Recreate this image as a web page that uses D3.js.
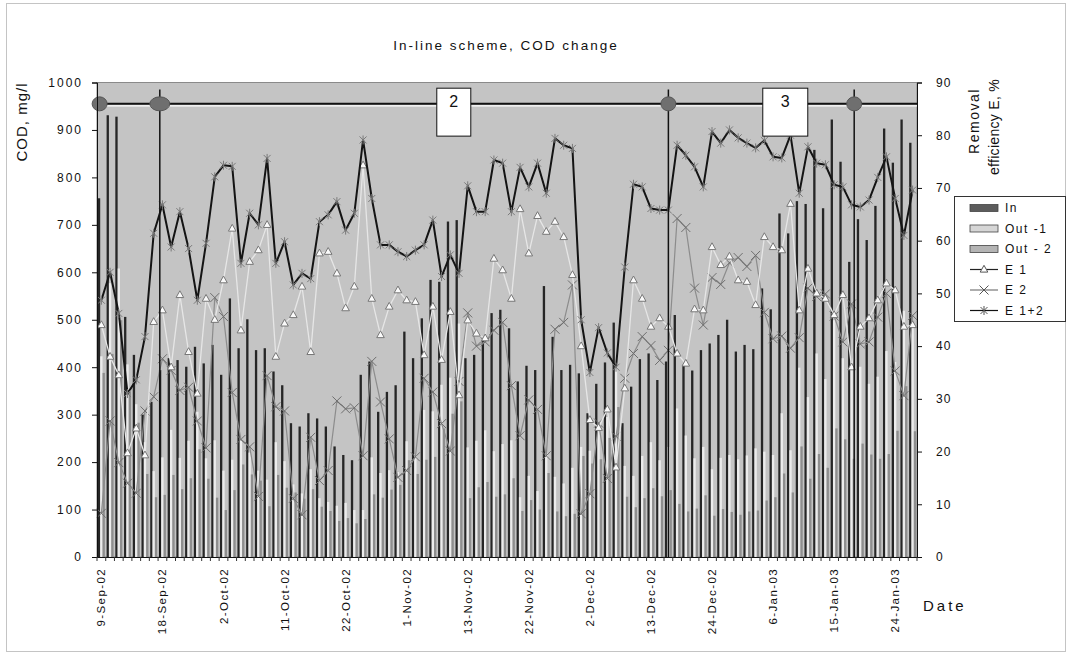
<!DOCTYPE html>
<html>
<head>
<meta charset="utf-8">
<script src="https://cdn.jsdelivr.net/npm/d3@7"></script>
<style>
body { margin: 0; background: #fff; }
text { font-family: "Liberation Sans", Arial, sans-serif; fill: #111; }
</style>
</head>
<body>
<script>
(function(){

//sampling dates (categories)
var dates = [
  "9-Sep-02","10-Sep-02","11-Sep-02","12-Sep-02","13-Sep-02","16-Sep-02","17-Sep-02",
  "18-Sep-02","20-Sep-02","23-Sep-02","24-Sep-02","26-Sep-02","27-Sep-02","30-Sep-02",
  "2-Oct-02","3-Oct-02","4-Oct-02","7-Oct-02","8-Oct-02","9-Oct-02","10-Oct-02",
  "11-Oct-02","14-Oct-02","15-Oct-02","16-Oct-02","17-Oct-02","18-Oct-02","21-Oct-02",
  "22-Oct-02","23-Oct-02","24-Oct-02","25-Oct-02","28-Oct-02","29-Oct-02","31-Oct-02",
  "1-Nov-02","4-Nov-02","5-Nov-02","6-Nov-02","8-Nov-02","11-Nov-02","12-Nov-02",
  "13-Nov-02","14-Nov-02","15-Nov-02","18-Nov-02","19-Nov-02","20-Nov-02","21-Nov-02",
  "22-Nov-02","25-Nov-02","26-Nov-02","27-Nov-02","28-Nov-02","29-Nov-02","30-Nov-02",
  "2-Dec-02","3-Dec-02","4-Dec-02","5-Dec-02","9-Dec-02","10-Dec-02","11-Dec-02",
  "13-Dec-02","16-Dec-02","17-Dec-02","18-Dec-02","19-Dec-02","20-Dec-02","23-Dec-02",
  "24-Dec-02","26-Dec-02","27-Dec-02","30-Dec-02","31-Dec-02","2-Jan-03","3-Jan-03",
  "6-Jan-03","7-Jan-03","8-Jan-03","9-Jan-03","10-Jan-03","13-Jan-03","14-Jan-03",
  "15-Jan-03","16-Jan-03","17-Jan-03","20-Jan-03","21-Jan-03","22-Jan-03","23-Jan-03",
  "24-Jan-03","27-Jan-03","28-Jan-03"
];

//COD, mg/l
var codIn = [756,931,928,506,426,300,327,394,419,415,
  401,443,408,447,384,545,440,501,436,440,
  391,362,282,275,303,292,275,233,215,204,
  384,412,306,348,362,475,419,503,584,580,
  707,710,419,426,457,514,521,482,370,403,
  394,571,464,394,405,387,303,365,410,494,
  282,359,417,429,373,412,510,405,393,436,
  450,468,500,433,447,438,566,522,724,682,
  750,744,858,735,922,833,622,712,668,740,
  903,831,922,873];
var codOut1 = [423,577,608,406,322,242,181,210,268,209,
  245,306,208,246,182,205,251,220,182,163,
  242,202,153,134,185,124,116,108,114,99,
  99,210,177,183,179,244,216,310,307,363,
  378,492,231,245,267,223,238,246,126,171,
  139,219,169,155,188,232,224,276,295,410,
  192,171,213,242,204,232,313,256,208,232,
  185,209,215,206,214,229,222,215,303,225,
  399,337,429,375,499,419,398,401,365,380,
  434,411,519,489];
var codOut2 = [388,428,499,349,283,175,126,131,173,143,
  166,227,165,125,99,141,195,174,161,107,
  173,146,136,123,143,106,97,76,82,71,
  80,132,125,142,152,204,175,205,211,271,
  302,328,124,147,158,127,132,166,97,120,
  100,177,96,86,91,213,197,206,251,316,
  127,105,124,145,128,141,112,96,102,130,
  87,101,95,89,96,98,119,126,176,136,
  233,165,217,188,271,248,207,239,216,207,
  217,266,360,265];

//removal efficiency, %
var effE1 = [44,38,34.5,19.7,24.4,19.3,44.6,46.8,36,49.7,
  38.9,31,49,45,52.5,62.3,43,56,58.2,63,
  38,44.3,45.9,51.3,38.9,57.6,57.9,53.8,47.2,51.3,
  74.3,49,42.1,47.5,50.6,48.7,48.4,38.3,47.5,37.4,
  46.5,30.7,44.9,42.4,41.5,56.6,54.4,49,66,57.6,
  64.7,61.7,63.6,60.7,53.5,40,26,24.5,28,17,
  32,52.5,49,43.7,45.3,43.7,38.6,36.7,47,46.8,
  58.8,55.4,57,52.5,52.2,47.8,60.7,58.8,58.2,67,
  46.8,54.7,50,49,45.9,49.7,36,43.7,45.3,48.7,
  51.9,50.6,43.7,44];
var effE2 = [8.3,25.8,17.9,14,12.1,27.7,30.4,37.6,35.4,31.6,
  32.2,25.8,20.7,49.2,45.6,31.2,22.3,20.9,11.5,34.4,
  28.5,27.7,11.1,8,22.7,14.5,16.4,29.6,28.1,28.3,
  19.2,37.1,29.4,22.4,15.1,16.4,19,33.9,31.3,25.3,
  20.1,33.3,46.3,40,40.8,43,44.5,32.5,23,29.8,
  28,19.2,43.2,44.5,51.6,8.2,12,25.4,14.9,22.9,
  33.9,38.6,41.8,40.1,37.3,39.2,64.2,62.5,51,44,
  53,51.7,55.8,56.8,55.1,57.2,46.4,41.4,41.9,39.6,
  41.6,51,49.4,49.9,45.7,40.8,48,40.4,40.8,45.5,
  50,35.3,30.6,45.8];
var effE12 = [48.7,54,46.2,31,33.6,41.8,61.4,66.8,58.8,65.5,
  58.5,48.7,59.5,72.1,74.3,74.1,55.7,65.2,63,75.6,
  55.7,59.8,51.6,53.8,52.8,63.6,64.9,67.4,62,65.2,
  79.1,68,59.2,59.2,57.9,57,58.2,59.2,63.9,53.2,
  57.3,53.8,70.4,65.5,65.5,75.3,74.7,65.5,73.9,70.2,
  74.7,69,79.4,78.1,77.5,45,35,43.5,38.7,36,
  55,70.7,70.2,66.1,65.8,65.8,78.1,76.2,74,70.2,
  80.7,78.5,81,79.5,78.5,77.6,79,75.9,75.7,80,
  69,77.8,74.7,74.4,70.6,70.2,66.8,66.4,67.7,72,
  75.9,68,61,69.6];

var codTicks = [0,100,200,300,400,500,600,700,800,900,1000];
var effTicks = [0,10,20,30,40,50,60,70,80,90];

//treatment phases (position in category units) and phase labels
var phaseLevel = 955;
var phaseMarks = [0.3, 7.2, 65.5, 86.8];
var phaseLabels = ["2", "3"];
var phaseLabelAt = [40.9, 78.9];

//frame
var width = 1071, height = 665;
var plot = {left: 97, right: 917, top: 82.5, bottom: 557};

var svg = d3.select("body").append("svg")
  .attr("width", width)
  .attr("height", height);

//outer dotted border
svg.append("rect")
  .attr("x", 6.5).attr("y", 3.5)
  .attr("width", 1059).attr("height", 648)
  .attr("fill", "none")
  .attr("stroke", "#888")
  .attr("stroke-dasharray", "1,1");

//scales
var x = d3.scaleBand().domain(dates).range([plot.left, plot.right]);
var bw = x.bandwidth();
var xSub = d3.scaleBand().domain(["In", "Out1", "Out2"]).range([bw * 0.1, bw * 0.9]);
var xIdx = d3.scaleLinear().domain([0, dates.length]).range([plot.left, plot.right]);
var yL = d3.scaleLinear().domain([0, 1000]).range([plot.bottom, plot.top]);
var yR = d3.scaleLinear().domain([0, 90]).range([plot.bottom, plot.top]);

//plot background
svg.append("rect")
  .attr("x", plot.left).attr("y", plot.top)
  .attr("width", plot.right - plot.left)
  .attr("height", plot.bottom - plot.top)
  .attr("fill", "#c4c4c4")
  .attr("stroke", "#8a8a8a");

//bars
var barSeries = [
  {key: "In", values: codIn, fill: "#262626"},
  {key: "Out1", values: codOut1, fill: "#ececec"},
  {key: "Out2", values: codOut2, fill: "#8e8e8e"}
];
barSeries.forEach(function(s){
  svg.append("g").selectAll("rect")
    .data(s.values)
    .enter()
    .append("rect")
    .attr("x", function(d, i){ return x(dates[i]) + xSub(s.key); })
    .attr("y", function(d){ return yL(d); })
    .attr("width", xSub.bandwidth())
    .attr("height", function(d){ return yL(0) - yL(d); })
    .attr("fill", s.fill);
});

//efficiency lines
var cx = function(i){ return x(dates[i]) + bw / 2; };
var line = d3.line()
  .x(function(d, i){ return cx(i); })
  .y(function(d){ return yR(d); });

var triPath = "M0,-4.2L3.8,2.6L-3.8,2.6Z";
var crossPath = "M-4.5,-4.5L4.5,4.5M-4.5,4.5L4.5,-4.5";
var starPath = "M-3.5,-3.5L3.5,3.5M-3.5,3.5L3.5,-3.5M0,-4.5L0,4.5";

var lineSeries = [
  {values: effE2, stroke: "#8c8c8c", sw: 1.2, marker: crossPath, mFill: "none", mStroke: "#6e6e6e"},
  {values: effE1, stroke: "#e6e6e6", sw: 1.3, marker: triPath, mFill: "#fafafa", mStroke: "#777"},
  {values: effE12, stroke: "#141414", sw: 2, marker: starPath, mFill: "none", mStroke: "#7a7a7a"}
];
lineSeries.forEach(function(s){
  svg.append("path")
    .datum(s.values)
    .attr("d", line)
    .attr("fill", "none")
    .attr("stroke", s.stroke)
    .attr("stroke-width", s.sw)
    .attr("stroke-linejoin", "round");
  svg.append("g").selectAll("path")
    .data(s.values)
    .enter()
    .append("path")
    .attr("transform", function(d, i){ return "translate(" + cx(i) + "," + yR(d) + ")"; })
    .attr("d", s.marker)
    .attr("fill", s.mFill)
    .attr("stroke", s.mStroke)
    .attr("stroke-width", 1);
});

//phase annotation
var ann = svg.append("g");
ann.append("line")
  .attr("x1", plot.left).attr("x2", plot.right)
  .attr("y1", yL(phaseLevel) + 2).attr("y2", yL(phaseLevel) + 2)
  .attr("stroke", "#fff").attr("stroke-width", 1.2);
ann.append("line")
  .attr("x1", plot.left).attr("x2", plot.right)
  .attr("y1", yL(phaseLevel)).attr("y2", yL(phaseLevel))
  .attr("stroke", "#111").attr("stroke-width", 2);
ann.selectAll(".vmark")
  .data(phaseMarks.slice(1))
  .enter()
  .append("line")
  .attr("class", "vmark")
  .attr("x1", function(d){ return xIdx(d); })
  .attr("x2", function(d){ return xIdx(d); })
  .attr("y1", yL(985)).attr("y2", yL(0))
  .attr("stroke", "#111").attr("stroke-width", 1.5);
ann.selectAll(".dot")
  .data(phaseMarks)
  .enter()
  .append("ellipse")
  .attr("class", "dot")
  .attr("cx", function(d){ return xIdx(d); })
  .attr("cy", yL(phaseLevel))
  .attr("rx", function(d, i){ return i === 1 ? 10 : 7.5; })
  .attr("ry", 7)
  .attr("fill", "#6f6f6f")
  .attr("stroke", "#555");
var boxW = [34, 45];
phaseLabels.forEach(function(lab, k){
  var bx = xIdx(phaseLabelAt[k]);
  ann.append("rect")
    .attr("x", bx - boxW[k] / 2).attr("y", yL(988))
    .attr("width", boxW[k]).attr("height", yL(887) - yL(988))
    .attr("fill", "#fff").attr("stroke", "#111").attr("stroke-width", 1);
  ann.append("text")
    .attr("x", bx).attr("y", yL(949))
    .attr("text-anchor", "middle")
    .style("font-size", "16px")
    .text(lab);
});

//axes
var leftAxis = svg.append("g")
  .attr("transform", "translate(" + plot.left + ",0)")
  .call(d3.axisLeft(yL).tickValues(codTicks).tickFormat(d3.format("d")).tickSize(5).tickPadding(9));
leftAxis.selectAll("text").style("font-size", "12px").style("letter-spacing", "2px");

var rightAxis = svg.append("g")
  .attr("transform", "translate(" + plot.right + ",0)")
  .call(d3.axisRight(yR).tickValues(effTicks).tickSize(5).tickPadding(14));
rightAxis.selectAll("text").style("font-size", "12px").style("letter-spacing", "1px");

var bottomAxis = svg.append("g")
  .attr("transform", "translate(0," + plot.bottom + ")")
  .call(d3.axisBottom(x)
    .tickValues(dates.filter(function(d, i){ return i % 7 === 0; }))
    .tickSize(0));
bottomAxis.selectAll("text")
  .attr("transform", "rotate(-90)")
  .attr("x", -11).attr("y", 0).attr("dy", "0.35em")
  .style("text-anchor", "end")
  .style("font-size", "11.5px")
  .style("letter-spacing", "1.4px");
[leftAxis, rightAxis, bottomAxis].forEach(function(a){
  a.selectAll("path.domain, line").attr("stroke", "#111");
  a.selectAll("text").style("fill", "#111");
});

//minor ticks along the category axis
svg.append("g").selectAll("line")
  .data(d3.range(dates.length + 1))
  .enter()
  .append("line")
  .attr("x1", function(d){ return xIdx(d); })
  .attr("x2", function(d){ return xIdx(d); })
  .attr("y1", plot.bottom).attr("y2", plot.bottom + 4)
  .attr("stroke", "#333");

//titles
svg.append("text")
  .attr("x", 506).attr("y", 50)
  .attr("text-anchor", "middle")
  .style("font-size", "13.5px").style("letter-spacing", "2px")
  .text("In-line scheme, COD change");
svg.append("text")
  .attr("transform", "translate(27,122) rotate(-90)")
  .attr("text-anchor", "middle")
  .style("font-size", "15px").style("letter-spacing", "1px")
  .text("COD, mg/l");
svg.append("text")
  .attr("transform", "translate(979,121) rotate(-90)")
  .attr("text-anchor", "middle")
  .style("font-size", "14px").style("letter-spacing", "1.5px")
  .text("Removal");
svg.append("text")
  .attr("transform", "translate(999,127) rotate(-90)")
  .attr("text-anchor", "middle")
  .style("font-size", "14px").style("letter-spacing", "0.3px")
  .text("efficiency E, %");
svg.append("text")
  .attr("x", 923).attr("y", 611)
  .style("font-size", "15px").style("letter-spacing", "3px")
  .text("Date");

//legend
var legend = svg.append("g");
legend.append("rect")
  .attr("x", 954.5).attr("y", 196.5)
  .attr("width", 111).attr("height", 125)
  .attr("fill", "#fff").attr("stroke", "#333");
var legendItems = [
  {label: "In", type: "bar", fill: "#5c5c5c"},
  {label: "Out -1", type: "bar", fill: "#d6d6d6"},
  {label: "Out - 2", type: "bar", fill: "#b4b4b4"},
  {label: "E 1", type: "line", s: lineSeries[1], stroke: "#222"},
  {label: "E 2", type: "line", s: lineSeries[0], stroke: "#777"},
  {label: "E 1+2", type: "line", s: lineSeries[2], stroke: "#111"}
];
legendItems.forEach(function(it, k){
  var ly = 208 + k * 20.5;
  if (it.type === "bar") {
    legend.append("rect")
      .attr("x", 970).attr("y", ly - 3.5)
      .attr("width", 28).attr("height", 7)
      .attr("fill", it.fill).attr("stroke", "#444").attr("stroke-width", 0.8);
  } else {
    legend.append("line")
      .attr("x1", 970).attr("x2", 998)
      .attr("y1", ly).attr("y2", ly)
      .attr("stroke", it.stroke).attr("stroke-width", 1.2);
    legend.append("path")
      .attr("transform", "translate(984," + ly + ")")
      .attr("d", it.s.marker)
      .attr("fill", it.s.mFill === "none" ? "none" : "#fff")
      .attr("stroke", "#555");
  }
  legend.append("text")
    .attr("x", 1005).attr("y", ly + 4)
    .style("font-size", "12px").style("letter-spacing", "1.5px")
    .text(it.label);
});

})();
</script>
</body>
</html>
